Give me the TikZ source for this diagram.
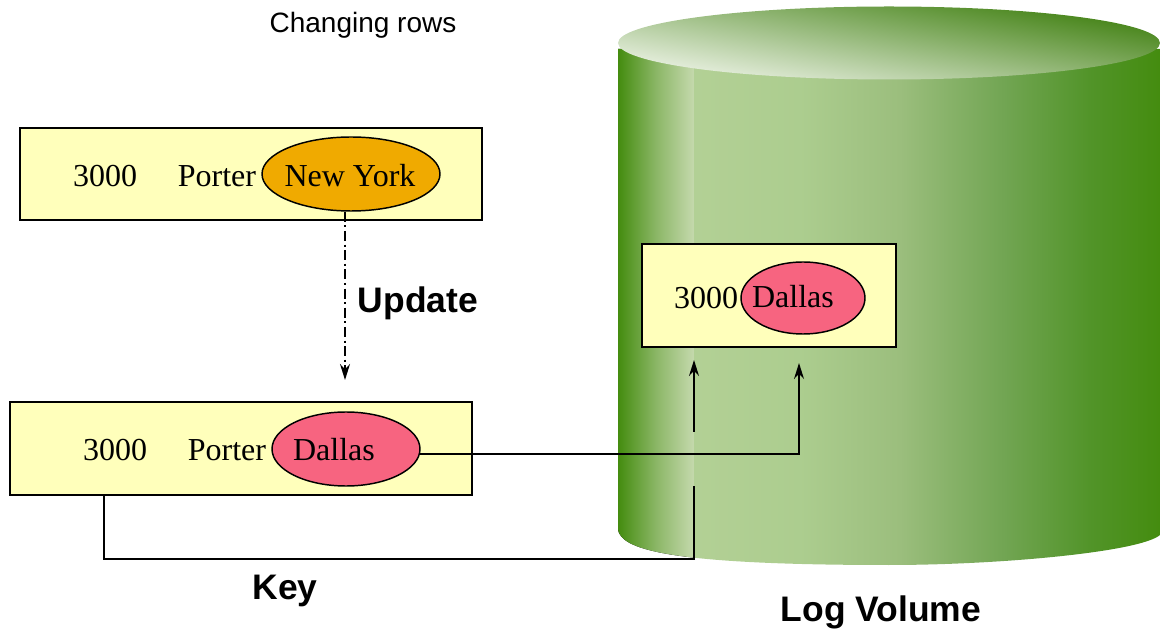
\documentclass[tikz,border=0pt]{standalone}
\usepackage{fontspec}
\setmainfont{Liberation Serif}
\setsansfont{Liberation Sans}
\usetikzlibrary{arrows.meta,shapes.geometric}
\definecolor{rowfill}{RGB}{255,255,187}
\definecolor{oldfill}{RGB}{240,170,0}
\definecolor{newfill}{RGB}{247,100,128}
\definecolor{drumdark}{RGB}{68,140,15}
\definecolor{drumpale}{RGB}{197,217,173}
\pgfdeclarehorizontalshading{drumright}{100bp}{
  rgb(0bp)=(0.70,0.816,0.584);
  rgb(25bp)=(0.70,0.816,0.584);
  rgb(36.4bp)=(0.675,0.804,0.56);
  rgb(47.1bp)=(0.608,0.745,0.49);
  rgb(57.9bp)=(0.45,0.65,0.33);
  rgb(67.5bp)=(0.32,0.58,0.16);
  rgb(75bp)=(0.267,0.549,0.059);
  rgb(100bp)=(0.267,0.549,0.059)}
\begin{document}
\begin{tikzpicture}[
    x=0.75pt, y=-0.75pt,
    rowbox/.style={rectangle, draw, line width=1.5pt, fill=rowfill, inner sep=0pt},
    cityold/.style={ellipse, draw, line width=1.1pt, fill=oldfill, inner sep=0pt, minimum width=133.5pt, minimum height=55.5pt},
    citynew/.style={ellipse, draw, line width=1.1pt, fill=newfill, inner sep=0pt},
    cell/.style={inner sep=0pt, font=\cellfont},
    caption/.style={inner sep=0pt, font=\sffamily\bfseries\fontsize{26.6}{30}\selectfont},
    wire/.style={line width=1.2pt},
    wirearrow/.style={line width=1.2pt, -{Stealth[length=12pt, width=7.5pt, inset=4pt]}}
]
\newcommand{\cellfont}{\fontsize{24}{28}\selectfont}
\useasboundingbox (0,0) rectangle (1160,630);

% Log volume drum
\begin{scope}
\clip (618,49) -- (618,530) .. controls (622,548) and (660,565) .. (889,565)
      .. controls (1000,565) and (1140,552) .. (1160,535) -- (1160,49) -- cycle;
\fill[left color=drumdark, right color=drumpale, middle color=drumdark!45!drumpale] (618,40) rectangle (694,570);
\shade[shading=drumright] (694,40) rectangle (1160,570);
\end{scope}
\shade[top color=drumdark!90!black, bottom color=drumpale!25!white, shading angle=-10]
    (889,43) ellipse [x radius=271, y radius=36.5];

% Title and captions
\node[inner sep=0pt, font=\sffamily\fontsize{21}{25}\selectfont] (title) at (363,25) {Changing rows};
\node[caption] (update) at (418,303) {Update};
\node[caption] (key) at (285,591) {Key};
\node[caption] (logvol) at (881,612) {Log Volume};

% Row before the update
\node[rowbox, minimum width=346.5pt, minimum height=69pt] (rowold) at (251,174) {};
\node[cell] (idold) at (105,176) {3000};
\node[cell] (nameold) at (217,176) {Porter};
\node[cityold] (cityold) at (351,174) {};
\node[cell] (textold) at (350,176) {New York};

% Row after the update
\node[rowbox, minimum width=346.5pt, minimum height=69.5pt] (rownew) at (240.5,448.5) {};
\node[cell] (idnew) at (115,450) {3000};
\node[cell] (namenew) at (227,450) {Porter};
\node[citynew, minimum width=111pt, minimum height=55.5pt] (citynew) at (346,449) {};
\node[cell] (textnew) at (334,450) {Dallas};

% Record in the log
\node[rowbox, minimum width=190.5pt, minimum height=77.5pt] (rowlog) at (769,295.5) {};
\node[cell] (idlog) at (706,298) {3000};
\node[citynew, minimum width=93pt, minimum height=54pt] (citylog) at (803,298) {};
\node[cell] (textlog) at (793,297) {Dallas};

% Free ends
\coordinate (updend) at (345,380);
\coordinate (keystart) at (104,495);
\coordinate (keycorner) at (104,559);
\coordinate (keyend) at (694,486);
\coordinate (keyout) at (694,432);
\coordinate (keytip) at (694,360);
\coordinate (citytip) at (799,363);

% Update
\draw[wirearrow, line width=1.3pt, dash pattern=on 7.5pt off 2.7pt on 1.5pt off 2.7pt] (updend |- cityold.south) -- (updend);

% Key
\draw[wire] (keystart) -- (keycorner) -- (keycorner -| keyend) -- (keyend);
\draw[wirearrow] (keyout) -- (keytip);

% City
\draw[wirearrow] (citynew.-4) -| (citytip);
\end{tikzpicture}
\end{document}
